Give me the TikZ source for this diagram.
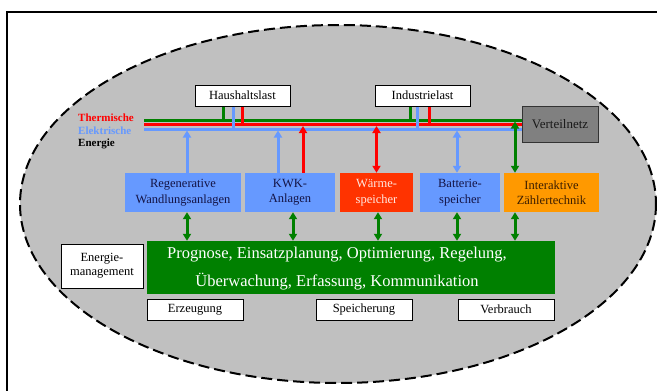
\documentclass[tikz,border=0pt]{standalone}
\usepackage{fontspec}
\setmainfont{Liberation Serif}
\usetikzlibrary{arrows.meta}

\definecolor{ellgray}{RGB}{192,192,192}
\definecolor{bgreen}{RGB}{0,128,0}
\definecolor{bred}{RGB}{255,0,0}
\definecolor{bblue}{RGB}{102,153,255}
\definecolor{heatred}{RGB}{255,51,0}
\definecolor{meterorange}{RGB}{255,153,0}
\definecolor{gridgray}{RGB}{128,128,128}
\definecolor{navytext}{RGB}{20,20,70}
\definecolor{browntext}{RGB}{60,30,0}
\definecolor{pinktext}{RGB}{255,232,224}

\newcommand\fsN{\fontsize{12.5}{15.5}\selectfont}
\newcommand\fsL{\fontsize{16.5}{28}\selectfont}
\newcommand\fsB{\fontsize{11}{12}\selectfont\bfseries}

\begin{document}
\begin{tikzpicture}[x=1pt,y=-1pt,
  >={Triangle[width=8pt,length=7pt]},
  bus/.style={line width=3pt},
  whitebox/.style={draw, fill=white, line width=1pt, inner sep=0pt, font=\fsN, align=center},
  colbox/.style={inner sep=0pt, align=center, font=\fsN, minimum height=39},
  bluebox/.style={colbox, fill=bblue, text=navytext},
  legend/.style={anchor=west, inner sep=0pt, font=\fsB}]

\useasboundingbox (0,0) rectangle (657,391);
\fill[white] (0,0) rectangle (657,391);

% outer frame (runs past the page on the right and bottom)
\draw[line width=1.5pt] (7,400) -- (7,12) -- (670,12);

% system boundary
\filldraw[fill=ellgray, line width=2pt, dash pattern=on 11pt off 5pt]
  (338,204) ellipse [x radius=318, y radius=179];

% loads and grid
\node[whitebox, minimum width=95, minimum height=21] (haus) at (242.5,95.5) {Haushaltslast};
\node[whitebox, minimum width=95, minimum height=21] (indu) at (422.5,95.5) {Industrielast};
\node[draw=black!80, fill=gridgray, line width=1pt, inner sep=0pt, font=\fontsize{13}{15}\selectfont,
      text=black!90, minimum width=76, minimum height=36] (vert) at (560,124) {Verteilnetz};

% legend
\node[legend, text=bred] (lth) at (78,118) {Thermische};
\node[legend, text=bblue] (lel) at (78,131) {Elektrische};
\node[legend, text=black] (len) at (78,144) {Energie};

% energy busses
\coordinate (gS) at (144,120);
\coordinate (rS) at (144,124.5);
\coordinate (bS) at (144,129);
\draw[bus, bgreen] (gS) -- (gS -| vert.west);
\draw[bus, bred]   (rS) -- (rS -| vert.west);
\draw[bus, bblue]  (bS) -- (bS -| vert.west);

% generation, storage and metering
\node[bluebox, minimum width=116] (rege) at (183,192.5) {Regenerative\\Wandlungsanlagen};
\node[bluebox, minimum width=90] (kwk) at (290,192.5) {KWK-\\Anlagen};
\node[colbox, fill=heatred, text=pinktext, minimum width=73] (waerme) at (376.5,192.5) {Wärme-\\speicher};
\node[bluebox, minimum width=80] (batt) at (460,192.5) {Batterie-\\speicher};
\node[colbox, fill=meterorange, text=browntext, minimum width=95] (inter) at (551.5,192.5) {Interaktive\\Zählertechnik};

% energy management
\node[whitebox, minimum width=82, minimum height=44, font=\fontsize{12.5}{14}\selectfont] (em) at (102,266) {Energie-\\management};
\node[fill=bgreen, inner sep=0pt, minimum width=408, minimum height=53] (mgmt) at (351,267.5) {};
\node[text=white, font=\fsL, align=center, inner sep=0pt] (mtext) at (337,269)
  {Prognose, Einsatzplanung, Optimierung, Regelung,\\Überwachung, Erfassung, Kommunikation};

% categories
\node[whitebox, minimum width=96, minimum height=21] (erz) at (195,309.5) {Erzeugung};
\node[whitebox, minimum width=96, minimum height=21] (spei) at (364,309.5) {Speicherung};
\node[whitebox, minimum width=96, minimum height=21] (verb) at (506,309.5) {Verbrauch};

% load connections
\draw[bus, bgreen] ([xshift=-19.5]haus.south) -- ([xshift=-19.5]haus.south |- 0,121.5);
\draw[bus, bred]   (haus.south) -- (haus.south |- 0,126);
\draw[bus, bblue]  ([xshift=-9.5]haus.south) -- ([xshift=-9.5]haus.south |- 0,130.5);
\draw[bus, bgreen] ([xshift=-12.5]indu.south) -- ([xshift=-12.5]indu.south |- 0,121.5);
\draw[bus, bred]   ([xshift=6.5]indu.south) -- ([xshift=6.5]indu.south |- 0,126);
\draw[bus, bblue]  ([xshift=-5.5]indu.south) -- ([xshift=-5.5]indu.south |- 0,130.5);

% feed-in and exchange with the busses
\draw[bus, bblue, ->]  ([xshift=4]rege.north) -- ([xshift=4]rege.north |- 0,130.5);
\draw[bus, bblue, ->]  ([xshift=-12]kwk.north) -- ([xshift=-12]kwk.north |- 0,130.5);
\draw[bus, bred, ->]   ([xshift=13]kwk.north) -- ([xshift=13]kwk.north |- 0,126);
\draw[bus, bred, <->]  (waerme.north) -- (waerme.north |- 0,126);
\draw[bus, bblue, <->] ([xshift=-3]batt.north) -- ([xshift=-3]batt.north |- 0,130.5);
\draw[bus, bgreen, <->] ([xshift=-36.5]inter.north) -- ([xshift=-36.5]inter.north |- 0,121.5);

% information flow to energy management
\draw[bus, bgreen, <->] ([xshift=4]rege.south) -- ([xshift=4]rege.south |- mgmt.north);
\draw[bus, bgreen, <->] ([xshift=3]kwk.south) -- ([xshift=3]kwk.south |- mgmt.north);
\draw[bus, bgreen, <->] ([xshift=1.5]waerme.south) -- ([xshift=1.5]waerme.south |- mgmt.north);
\draw[bus, bgreen, <->] ([xshift=-3]batt.south) -- ([xshift=-3]batt.south |- mgmt.north);
\draw[bus, bgreen, <->] ([xshift=-36.5]inter.south) -- ([xshift=-36.5]inter.south |- mgmt.north);

\end{tikzpicture}
\end{document}
